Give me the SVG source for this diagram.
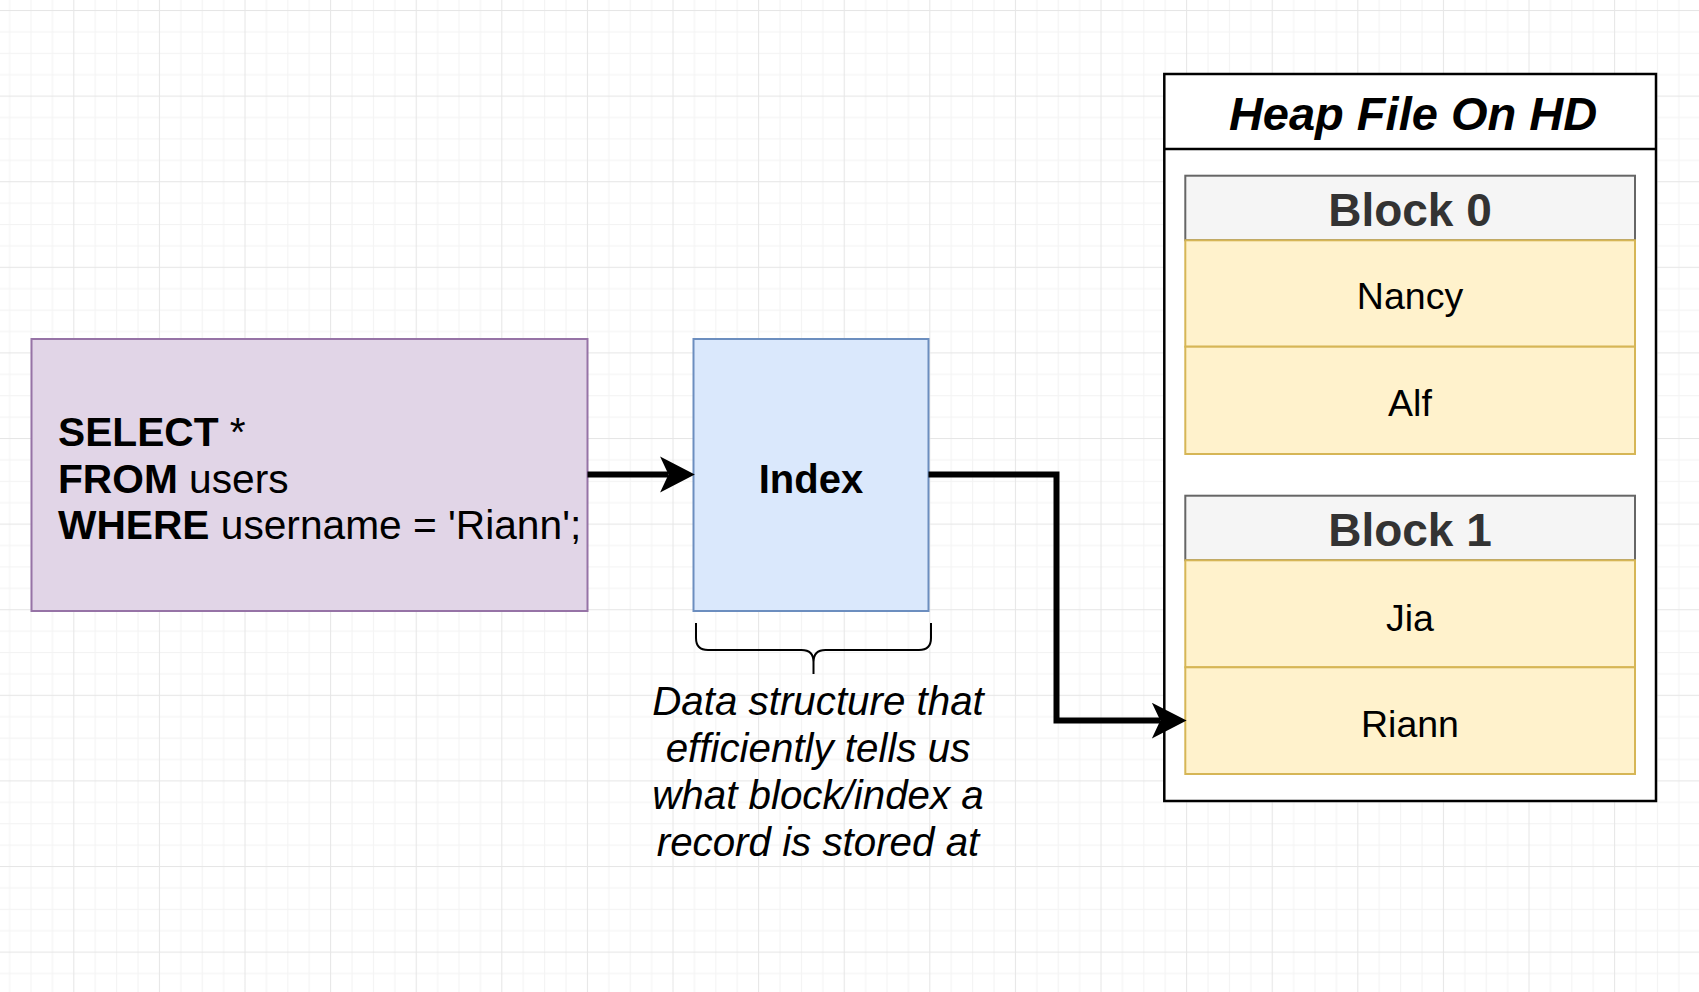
<svg xmlns="http://www.w3.org/2000/svg" width="1699" height="992" viewBox="0 0 1699 992">
<style>
text{font-family:"Liberation Sans",Arial,Helvetica,sans-serif}
.sql{font-size:40.7px;fill:#000}
.b{font-weight:bold}
.cell{font-size:37.5px;fill:#000;text-anchor:middle}
.hdr{font-size:46px;font-weight:bold;fill:#333;text-anchor:middle}
.note{font-size:40.3px;font-style:italic;fill:#000;text-anchor:middle}
.row{fill:#fff2cc;stroke:#d6b656;stroke-width:2}
.bh{fill:#f5f5f5;stroke:#666;stroke-width:2}
.conn{fill:none;stroke:#000;stroke-width:6}
</style>
<defs>
<pattern id="grid" patternUnits="userSpaceOnUse" x="73.3" y="10" width="85.6" height="85.6">
<rect x="0" y="0" width="85.6" height="85.6" fill="#fff"/>
<g fill="#f3f3f3">
<rect x="21.4" y="0" width="1" height="85.6"/>
<rect x="42.8" y="0" width="1" height="85.6"/>
<rect x="64.2" y="0" width="1" height="85.6"/>
<rect x="0" y="21.4" width="85.6" height="1"/>
<rect x="0" y="42.8" width="85.6" height="1"/>
<rect x="0" y="64.2" width="85.6" height="1"/>
</g>
<g fill="#e6e6e6">
<rect x="0" y="0" width="1" height="85.6"/>
<rect x="0" y="0" width="85.6" height="1"/>
</g>
</pattern>
<marker id="arr" markerUnits="userSpaceOnUse" markerWidth="40" markerHeight="40" viewBox="-35 -19 37 38" refX="-25" refY="0" orient="auto">
<path d="M0,0 L-33,-17 L-25,0 L-33,17 Z" fill="#000"/>
</marker>
</defs>
<rect width="1699" height="992" fill="url(#grid)"/>

<g id="query">
<rect x="31.5" y="339" width="556" height="272" fill="#e1d5e7" stroke="#9673a6" stroke-width="2"/>
<text class="sql" x="58" y="446"><tspan class="b">SELECT</tspan> *</text>
<text class="sql" x="58" y="492.5"><tspan class="b">FROM</tspan> users</text>
<text class="sql" x="58" y="539"><tspan class="b">WHERE</tspan> username = 'Riann';</text>
</g>

<g id="index">
<rect x="693.5" y="339" width="235" height="272" fill="#dae8fc" stroke="#6c8ebf" stroke-width="2"/>
<text x="811" y="493" font-size="40" font-weight="bold" text-anchor="middle" fill="#000">Index</text>
</g>

<g id="index-note">
<path d="M696,623 L696,638 Q696,650 708,650 L801.5,650 Q813.5,650 813.5,662 L813.5,674 M931,623 L931,638 Q931,650 919,650 L825.5,650 Q813.5,650 813.5,662" fill="none" stroke="#000" stroke-width="2"/>
<text class="note" x="818" y="714.5">Data structure that</text>
<text class="note" x="818" y="761.5">efficiently tells us</text>
<text class="note" x="818" y="808.5">what block/index a</text>
<text class="note" x="818" y="855.5">record is stored at</text>
</g>

<g id="heap-file">
<rect x="1164.3" y="74" width="491.7" height="727" fill="#fff" stroke="#000" stroke-width="2.5"/>
<line x1="1164.3" y1="149" x2="1656" y2="149" stroke="#000" stroke-width="2.5"/>
<text x="1413" y="130" font-size="47" font-weight="bold" font-style="italic" text-anchor="middle" fill="#000">Heap File On HD</text>
</g>

<g id="block0">
<rect class="bh" x="1185.3" y="175.7" width="449.7" height="64.6"/>
<text class="hdr" x="1410" y="225.5">Block 0</text>
<g id="row-nancy">
<rect class="row" x="1185.3" y="240.3" width="449.7" height="106.4"/>
<text class="cell" x="1410" y="309.3">Nancy</text>
</g>
<g id="row-alf">
<rect class="row" x="1185.3" y="346.7" width="449.7" height="107.3"/>
<text class="cell" x="1410" y="416">Alf</text>
</g>
</g>

<g id="block1">
<rect class="bh" x="1185.3" y="495.7" width="449.7" height="64.6"/>
<text class="hdr" x="1410" y="546">Block 1</text>
<g id="row-jia">
<rect class="row" x="1185.3" y="560.3" width="449.7" height="107"/>
<text class="cell" x="1410" y="630.5">Jia</text>
</g>
<g id="row-riann">
<rect class="row" x="1185.3" y="667.3" width="449.7" height="106.7"/>
<text class="cell" x="1410" y="737.3">Riann</text>
</g>
</g>

<g id="connectors">
<path class="conn" d="M587.5,474.5 L668.5,474.5" marker-end="url(#arr)"/>
<path class="conn" d="M928.5,474.5 L1056.5,474.5 L1056.5,720.6 L1160.3,720.6" marker-end="url(#arr)"/>
</g>
</svg>
